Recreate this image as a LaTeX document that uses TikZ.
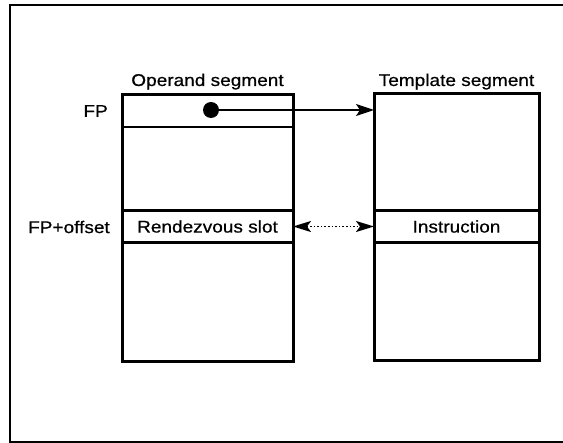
\documentclass[tikz,border=0pt]{standalone}
\usepackage{fontspec}
\setmainfont{Liberation Sans}[FakeStretch=1.12,FakeBold=0.6]
\usetikzlibrary{arrows.meta}
\begin{document}
\begin{tikzpicture}[x=1pt,y=-1pt,
  seg/.style={draw, line width=3pt, minimum width=#1, inner sep=0pt, outer sep=0pt},
  row/.style={draw, line width=2.6pt, minimum width=#1, minimum height=32pt, inner sep=0pt, outer sep=0pt, font=\fontsize{17}{20}\selectfont},
  lbl/.style={font=\fontsize{17}{20}\selectfont, inner sep=0pt}
]
\useasboundingbox (0,0) rectangle (563,443);
\fill[white] (0,0) rectangle (563,443);
% outer frame
\draw[line width=2.6pt] (566,5) -- (10,5) -- (10,442) -- (566,442);
% segments
\node[seg=171pt, minimum height=267pt] (lbox) at (207.5,228.5) {};
\node[seg=165pt, minimum height=267pt] (rbox) at (456.5,227.5) {};
% rows
\node[row=171pt] (fprow) at (207.5,111) {};
\node[row=171pt] (rslot) at (207.5,226.5) {Rendezvous slot};
\node[row=165pt] (instr) at (456.5,226.5) {Instruction};
% titles
\node[lbl, anchor=base] (optitle) at (207.5,86) {Operand segment};
\node[lbl, anchor=base] (tptitle) at (456.5,86) {Template segment};
% side labels
\node[lbl, anchor=east] (fp) at (108,111) {FP};
\node[lbl, anchor=east] (fpoff) at (110,227) {FP+offset};
% pointer
\node[circle, fill=black, minimum size=16pt, inner sep=0pt] (dot) at (211,110) {};
\draw[line width=1.8pt, -{Stealth[length=18pt,width=12pt,inset=4pt]}] (dot.center) -- (dot.center -| rbox.west);
% rendezvous link
\draw[line width=1.6pt, dotted, {Stealth[length=18pt,width=11pt,inset=4pt]}-{Stealth[length=18pt,width=11pt,inset=4pt]}] (rslot.east) -- (instr.west);
\end{tikzpicture}
\end{document}
